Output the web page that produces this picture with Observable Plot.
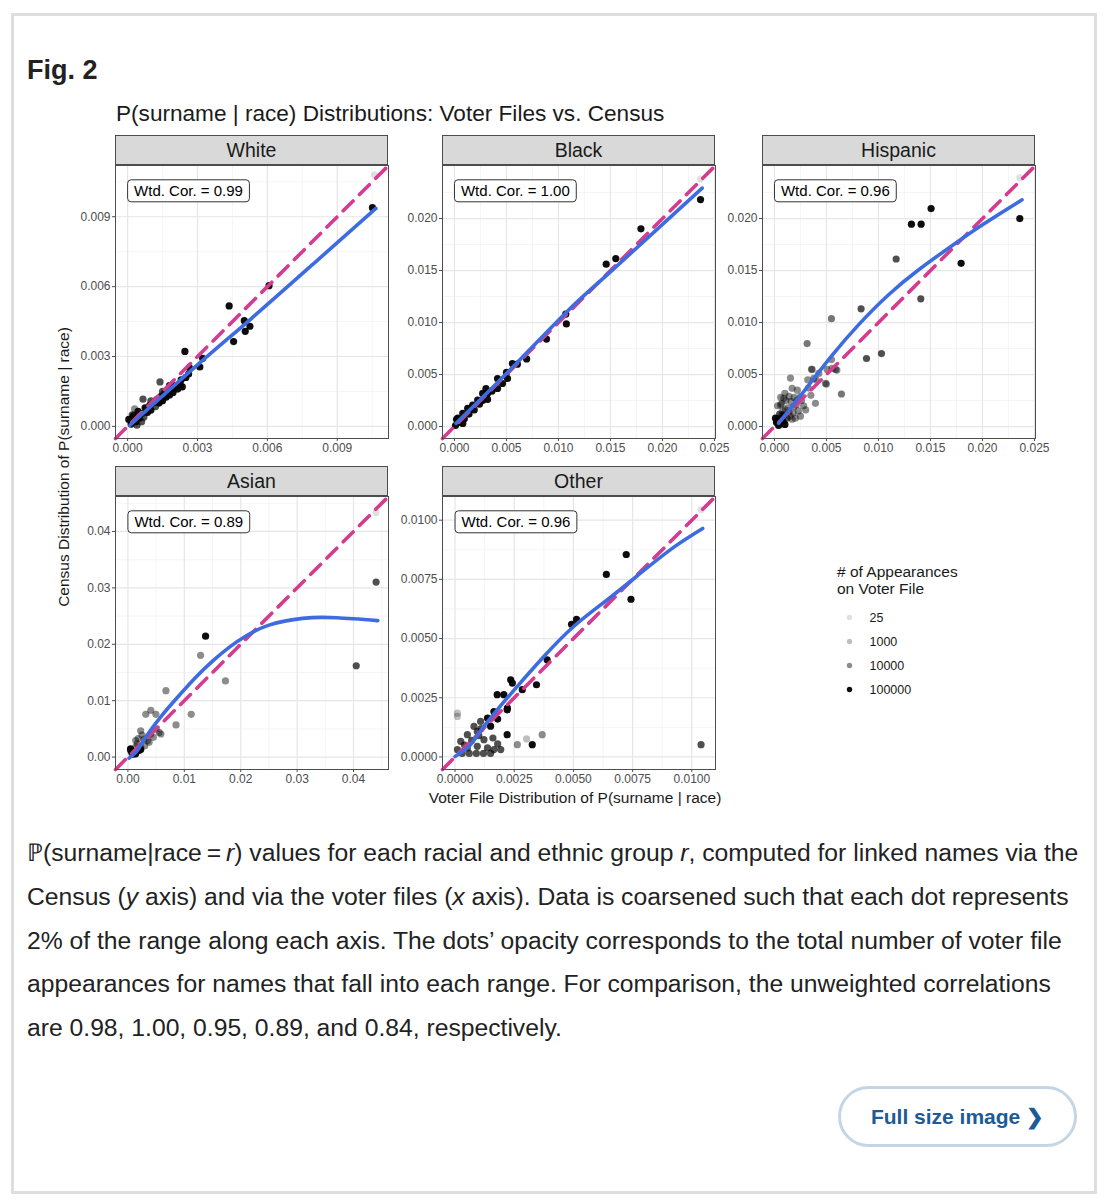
<!DOCTYPE html>
<html><head><meta charset="utf-8">
<script src="https://cdn.jsdelivr.net/npm/d3@7"></script>
<script src="https://cdn.jsdelivr.net/npm/@observablehq/plot@0.6"></script>
<style>
html,body{margin:0;padding:0;background:#fff;}
body{width:1111px;height:1200px;position:relative;overflow:hidden;font-family:"Liberation Sans",Arial,sans-serif;color:#222;}
#card{position:absolute;left:11px;top:13px;width:1086px;height:1181px;border:3px solid #dedede;box-sizing:border-box;}
#fig{position:absolute;left:27px;top:53px;font-size:27px;font-weight:bold;color:#222;line-height:34px;}
#ctitle{position:absolute;left:116px;top:100px;font-size:22.6px;color:#1a1a1a;line-height:28px;white-space:nowrap;}
.strip{position:absolute;height:30px;background:#d9d9d9;border:1px solid #4d4d4d;box-sizing:border-box;text-align:center;font-size:19.5px;line-height:28px;color:#1a1a1a;}
.pan{position:absolute;}
#ytitle{position:absolute;left:-136px;top:457px;width:400px;text-align:center;font-size:15.5px;line-height:20px;color:#1a1a1a;transform:rotate(-90deg);white-space:nowrap;}
#xtitle{position:absolute;left:375px;top:788px;width:400px;text-align:center;font-size:15.5px;line-height:20px;color:#1a1a1a;white-space:nowrap;}
#ltitle{position:absolute;left:837px;top:563px;font-size:15.5px;line-height:17px;color:#1a1a1a;white-space:nowrap;}
#legend{position:absolute;left:840px;top:604px;}
#caption{position:absolute;left:27px;top:831px;font-size:24.7px;line-height:43.75px;color:#222;white-space:nowrap;}
#btn{position:absolute;left:838px;top:1086px;width:239px;height:61px;border:3px solid #c4d5e6;border-radius:32px;box-sizing:border-box;color:#1c5a98;font-weight:bold;font-size:21px;line-height:55px;text-align:center;white-space:nowrap;}
</style></head>
<body>
<div id="card"></div>
<div id="fig">Fig. 2</div>
<div id="ctitle">P(surname | race) Distributions: Voter Files vs. Census</div>
<div id="ytitle">Census Distribution of P(surname | race)</div>
<div id="xtitle">Voter File Distribution of P(surname | race)</div>
<div id="ltitle"># of Appearances<br>on Voter File</div>
<div id="legend"></div>
<div id="caption">
<div>ℙ(surname|race&thinsp;=&thinsp;<i>r</i>) values for each racial and ethnic group <i>r</i>, computed for linked names via the</div>
<div>Census (<i>y</i> axis) and via the voter files (<i>x</i> axis). Data is coarsened such that each dot represents</div>
<div>2% of the range along each axis. The dots’ opacity corresponds to the total number of voter file</div>
<div>appearances for names that fall into each range. For comparison, the unweighted correlations</div>
<div>are 0.98, 1.00, 0.95, 0.89, and 0.84, respectively.</div>
</div>
<div id="btn">Full size image &#x276F;</div>
<script>
// ---------- data ----------
const panelNames = ["White", "Black", "Hispanic", "Asian", "Other"];
const wtdCor = ["0.99", "1.00", "0.96", "0.89", "0.96"];
const legendCounts = [25, 1000, 10000, 100000];

// axis limits (same for x and y in each panel)
const panelLimits = [
  [-0.00052, 0.0112],
  [-0.00115, 0.0251],
  [-0.00115, 0.0251],
  [-0.0022, 0.0462],
  [-0.00053, 0.0110]
];
const xTickLabels = [
  ["0.000", "0.003", "0.006", "0.009"],
  ["0.000", "0.005", "0.010", "0.015", "0.020", "0.025"],
  ["0.000", "0.005", "0.010", "0.015", "0.020", "0.025"],
  ["0.00", "0.01", "0.02", "0.03", "0.04"],
  ["0.0000", "0.0025", "0.0050", "0.0075", "0.0100"]
];
const yTickLabels = [
  ["0.000", "0.003", "0.006", "0.009"],
  ["0.000", "0.005", "0.010", "0.015", "0.020"],
  ["0.000", "0.005", "0.010", "0.015", "0.020"],
  ["0.00", "0.01", "0.02", "0.03", "0.04"],
  ["0.0000", "0.0025", "0.0050", "0.0075", "0.0100"]
];
const minorBreaks = [
  [0.0015, 0.0045, 0.0075, 0.0105],
  [0.0025, 0.0075, 0.0125, 0.0175, 0.0225],
  [0.0025, 0.0075, 0.0125, 0.0175, 0.0225],
  [0.005, 0.015, 0.025, 0.035, 0.045],
  [0.00125, 0.00375, 0.00625, 0.00875]
];

// points: [voter-file value, census value, # appearances]
const whitePoints = [
  [0.01051,0.00939,100000],[0.0106,0.0108,25],[0.00607,0.00604,100000],[0.00436,0.00517,100000],
  [0.00455,0.00364,100000],[0.00501,0.00454,100000],[0.00505,0.00408,100000],[0.00525,0.00430,100000],
  [0.00246,0.00322,100000],[0.00310,0.00255,100000],[0.00322,0.00292,100000],[0.00265,0.00252,100000],
  [0.00262,0.00225,100000],[0.00139,0.00191,30000],[0.00066,0.00117,30000],[0.00030,0.00075,10000],
  [0.00005,0.00030,100000],[0.00015,0.00010,100000],[0.00025,0.00045,100000],[0.00035,0.00020,100000],
  [0.00045,0.00065,100000],[0.00050,0.00035,100000],[0.00060,0.00055,100000],[0.00070,0.00040,30000],
  [0.00075,0.00080,100000],[0.00085,0.00060,100000],[0.00095,0.00090,100000],[0.00100,0.00070,100000],
  [0.00110,0.00100,100000],[0.00120,0.00085,30000],[0.00125,0.00115,100000],[0.00135,0.00100,100000],
  [0.00145,0.00130,100000],[0.00150,0.00110,100000],[0.00160,0.00145,100000],[0.00165,0.00125,100000],
  [0.00175,0.00155,100000],[0.00180,0.00135,100000],[0.00190,0.00165,100000],[0.00195,0.00145,100000],
  [0.00205,0.00175,100000],[0.00215,0.00160,100000],[0.00225,0.00180,100000],[0.00235,0.00170,100000],
  [0.00150,0.00150,30000],[0.00180,0.00175,100000],[0.00100,0.00110,30000],[0.00060,0.00020,30000],
  [0.00040,0.00005,30000],[0.00020,0.00050,30000],[0.00230,0.00200,100000],[0.00250,0.00210,100000]
];
const blackPoints = [
  [0.02366,0.02182,100000],[0.02366,0.02379,25],[0.01793,0.01901,100000],[0.01551,0.01615,100000],
  [0.01459,0.01561,100000],[0.01076,0.00987,100000],[0.01070,0.01080,100000],[0.00885,0.00841,100000],
  [0.00694,0.00650,100000],[0.00557,0.00605,100000],[0.00605,0.00600,100000],[0.00510,0.00462,100000],
  [0.00414,0.00462,100000],[0.00414,0.00366,100000],[0.00462,0.00414,100000],[0.00318,0.00318,100000],
  [0.00303,0.00366,100000],[0.00271,0.00318,100000],[0.00318,0.00261,100000],[0.00223,0.00255,100000],
  [0.00240,0.00215,100000],[0.00175,0.00207,100000],[0.00190,0.00160,100000],[0.00127,0.00175,100000],
  [0.00140,0.00120,100000],[0.00080,0.00127,100000],[0.00095,0.00075,100000],[0.00032,0.00080,100000],
  [0.00020,0.00070,100000],[0.00080,0.00030,100000],[0.00050,0.00040,100000],[0.00010,0.00010,100000],
  [0.00270,0.00250,100000],[0.00360,0.00340,100000],[0.00500,0.00520,100000]
];
const hispanicPoints = [
  [0.02359,0.02000,100000],[0.02359,0.02392,25],[0.01506,0.02096,100000],[0.01317,0.01946,100000],
  [0.01410,0.01946,100000],[0.01170,0.01611,30000],[0.01795,0.01569,100000],[0.01407,0.01228,30000],
  [0.00833,0.01132,30000],[0.00548,0.01037,15000],[0.00314,0.00798,15000],[0.00885,0.00654,30000],
  [0.01029,0.00702,30000],[0.00644,0.00313,15000],[0.00548,0.00644,10000],[0.00587,0.00549,10000],
  [0.00506,0.00549,10000],[0.00554,0.00559,10000],[0.00600,0.00543,10000],[0.00500,0.00408,10000],
  [0.00490,0.00415,10000],[0.00362,0.00549,10000],[0.00356,0.00550,10000],[0.00394,0.00223,10000],
  [0.00327,0.00370,10000],[0.00154,0.00466,10000],[0.00170,0.00367,10000],[0.00089,0.00272,10000],
  [0.00058,0.00208,10000],[0.00010,0.00080,100000],[0.00030,0.00060,100000],[0.00074,0.00112,10000],
  [0.00106,0.00160,10000],[0.00186,0.00191,10000],[0.00218,0.00255,10000],[0.00250,0.00287,10000],
  [0.00378,0.00463,10000],[0.00426,0.00511,10000],[0.0005,0.0003,100000],[0.0008,0.0005,100000],
  [0.0010,0.0002,100000],[0.0004,0.0001,100000],[0.0012,0.0008,30000],[0.0015,0.0010,10000],
  [0.0018,0.0013,10000],[0.0020,0.0008,10000],[0.0023,0.0015,10000],[0.0025,0.0010,10000],
  [0.0013,0.0018,10000],[0.0008,0.0015,10000],[0.0016,0.0024,10000],[0.0010,0.0032,10000],
  [0.0006,0.0028,10000],[0.0022,0.0035,10000],[0.0028,0.0020,10000],[0.0030,0.0016,10000],
  [0.0005,0.0012,30000],[0.0002,0.0004,100000],[0.0035,0.0030,10000],[0.0040,0.0045,10000],
  [0.0032,0.0045,10000],[0.0003,0.0020,10000],[0.0007,0.0022,10000],[0.0011,0.0025,10000],
  [0.0014,0.0029,10000],[0.0019,0.0028,10000],[0.0009,0.0011,30000],[0.0014,0.0014,10000],
  [0.0017,0.0007,10000],[0.0021,0.0021,10000],[0.0026,0.0025,10000],[0.0006,0.0008,30000]
];
const asianPoints = [
  [0.04400,0.03103,30000],[0.04400,0.04338,25],[0.04048,0.01619,30000],[0.01377,0.02143,100000],
  [0.01288,0.01805,10000],[0.01729,0.01351,10000],[0.00674,0.01177,10000],[0.01122,0.00758,10000],
  [0.00853,0.00571,10000],[0.00406,0.00828,10000],[0.00317,0.00758,10000],[0.00496,0.00758,10000],
  [0.00585,0.00409,10000],[0.00554,0.00437,10000],[0.00405,0.00408,10000],[0.00227,0.00466,10000],
  [0.00286,0.00321,10000],[0.00346,0.00291,10000],[0.00138,0.00292,10000],[0.00376,0.00262,10000],
  [0.00227,0.00175,10000],[0.00167,0.00233,10000],[0.00137,0.00175,10000],[0.00048,0.00147,100000],
  [0.00048,0.00128,100000],[0.00200,0.00120,100000],[0.00137,0.00058,100000],[0.00227,0.00134,100000],
  [0.00090,0.00050,100000],[0.00060,0.00090,30000],[0.00300,0.00200,10000],[0.00450,0.00350,10000],
  [0.00250,0.00390,10000],[0.00180,0.00330,10000],[0.00500,0.00500,10000]
];
const otherPoints = [
  [0.00723,0.00855,100000],[0.00639,0.00771,100000],[0.00743,0.00666,100000],[0.01039,0.01045,25],
  [0.01039,0.00052,30000],[0.00492,0.00560,100000],[0.00513,0.00581,100000],[0.00389,0.00410,100000],
  [0.00344,0.00305,100000],[0.00284,0.00284,100000],[0.00235,0.00326,100000],[0.00242,0.00312,100000],
  [0.00220,0.00199,100000],[0.00178,0.00263,100000],[0.00206,0.00263,100000],[0.00220,0.00094,100000],
  [0.00368,0.00094,10000],[0.00263,0.00052,10000],[0.00302,0.00076,1000],[0.00326,0.00052,100000],
  [0.00010,0.00185,1000],[0.00010,0.00171,1000],[0.00221,0.00206,100000],[0.00164,0.00192,100000],
  [0.00137,0.00164,100000],[0.00108,0.00150,30000],[0.00080,0.00129,30000],[0.00094,0.00108,30000],
  [0.00052,0.00094,30000],[0.00024,0.00066,30000],[0.00010,0.00031,30000],[0.00052,0.00038,30000],
  [0.00094,0.00045,30000],[0.00137,0.00038,30000],[0.00164,0.00031,30000],[0.00193,0.00031,30000],
  [0.00122,0.00073,30000],[0.00030,0.00015,30000],[0.00060,0.00015,30000],[0.00090,0.00015,30000],
  [0.00120,0.00015,30000],[0.00150,0.00015,30000],[0.00070,0.00070,30000],[0.00100,0.00090,30000],
  [0.00040,0.00050,30000],[0.00110,0.00120,30000],[0.00150,0.00130,100000],[0.00180,0.00160,100000],
  [0.00160,0.00080,30000],[0.00180,0.00055,30000]
];

// loess smooth (blue): [voter-file value, census value]
const whiteSmooth = [[0.0001,0.00005],[0.0030,0.00264],[0.0053,0.00462],[0.0080,0.00700],[0.01066,0.00936]];
const blackSmooth = [[0.00016,0.00032],[0.005,0.0051],[0.01076,0.01099],[0.015,0.01487],[0.02382,0.02293]];
const hispanicSmooth = [[0.0004,0.0003],[0.0030,0.0036],[0.0055,0.0068],[0.0081,0.0098],[0.0110,0.0127],
  [0.0139,0.0151],[0.0168,0.0172],[0.0200,0.0194],[0.0238,0.0218]];
const asianSmooth = [[0.0002,-0.0002],[0.0017,0.0012],[0.0030,0.0033],[0.0058,0.0071],[0.0088,0.0106],[0.0120,0.0141],
  [0.0150,0.0170],[0.0180,0.0195],[0.0210,0.0215],[0.0250,0.0234],[0.0310,0.0246],[0.0370,0.0247],[0.0443,0.0242]];
const otherSmooth = [[0.0000,0.00002],[0.00052,0.00038],[0.00087,0.0008],[0.00122,0.00129],[0.00178,0.00199],[0.00263,0.00298],
  [0.00375,0.00424],[0.00501,0.00551],[0.00642,0.00663],[0.00782,0.00775],[0.00923,0.00885],[0.01046,0.00965]];

const panelPoints = [whitePoints, blackPoints, hispanicPoints, asianPoints, otherPoints];
const panelSmooth = [whiteSmooth, blackSmooth, hispanicSmooth, asianSmooth, otherSmooth];

// ---------- layout / style ----------
const PW = 273, PH = 273;
const panelLayout = [
  {left: 115, top: 165}, {left: 442, top: 165}, {left: 762, top: 165},
  {left: 115, top: 496}, {left: 442, top: 496}
];
const M = {l: 50, r: 6, t: 4, b: 24};
const opacityScale = {type: "log", domain: [25, 1000, 10000, 100000], range: [0.12, 0.25, 0.45, 0.95], clamp: true};
const FONT = "Liberation Sans, Arial, sans-serif";

function addLabelBoxes(svg) {
  Array.from(svg.querySelectorAll("text"))
    .filter(t => t.textContent.startsWith("Wtd."))
    .forEach(t => {
      const bb = t.getBBox();
      const r = document.createElementNS("http://www.w3.org/2000/svg", "rect");
      r.setAttribute("x", bb.x - 6.5);
      r.setAttribute("y", bb.y - 2.5);
      r.setAttribute("width", bb.width + 13);
      r.setAttribute("height", bb.height + 5);
      r.setAttribute("rx", 3.5);
      r.setAttribute("fill", "white");
      r.setAttribute("stroke", "#333");
      r.setAttribute("stroke-width", 1);
      const tr = t.getAttribute("transform");
      if (tr) r.setAttribute("transform", tr);
      t.parentNode.insertBefore(r, t);
    });
}

panelNames.forEach((name, i) => {
  const lim = panelLimits[i];
  const xt = xTickLabels[i].map(Number), yt = yTickLabels[i].map(Number);
  const xl = new Map(xTickLabels[i].map(s => [+s, s]));
  const yl = new Map(yTickLabels[i].map(s => [+s, s]));
  const pts = panelPoints[i].map(([x, y, n]) => ({x, y, n}));
  const sm = panelSmooth[i].map(([x, y]) => ({x, y}));
  const diag = lim.map(v => ({x: v, y: v}));
  const zeroDx = (0 - lim[0]) / (lim[1] - lim[0]) * PW;
  const lay = panelLayout[i];

  const strip = document.createElement("div");
  strip.className = "strip";
  strip.style.left = lay.left + "px";
  strip.style.top = (lay.top - 30) + "px";
  strip.style.width = PW + "px";
  strip.textContent = name;
  document.body.append(strip);

  const svg = Plot.plot({
    width: PW + M.l + M.r, height: PH + M.t + M.b,
    marginLeft: M.l, marginRight: M.r, marginTop: M.t, marginBottom: M.b,
    style: {fontFamily: FONT, fontSize: "12px", color: "#4d4d4d", background: "transparent", overflow: "visible"},
    x: {domain: lim, ticks: xt, tickFormat: d => xl.get(d), tickSize: 3, tickPadding: 2, label: null},
    y: {domain: lim, ticks: yt, tickFormat: d => yl.get(d), tickSize: 3, tickPadding: 2, label: null},
    opacity: opacityScale,
    marks: [
      Plot.ruleX(minorBreaks[i], {stroke: "#f0f0f0", strokeWidth: 0.7}),
      Plot.ruleY(minorBreaks[i], {stroke: "#f0f0f0", strokeWidth: 0.7}),
      Plot.ruleX(xt, {stroke: "#e6e6e6", strokeWidth: 1.2}),
      Plot.ruleY(yt, {stroke: "#e6e6e6", strokeWidth: 1.2}),
      Plot.dot(pts, {x: "x", y: "y", r: 3.6, fill: "#000", fillOpacity: "n", stroke: "none"}),
      Plot.line(diag, {x: "x", y: "y", stroke: "#d63c8e", strokeWidth: 3.6, strokeDasharray: "14,9"}),
      Plot.line(sm, {x: "x", y: "y", stroke: "#3d6be0", strokeWidth: 3.6, curve: "natural"}),
      Plot.text([`Wtd. Cor. = ${wtdCor[i]}`], {frameAnchor: "top-left", dx: zeroDx + 6.5, dy: 26, text: d => d,
        textAnchor: "start", lineAnchor: "middle", fontSize: 15, fill: "#000"}),
      Plot.frame({stroke: "#4d4d4d", strokeWidth: 1})
    ]
  });
  svg.classList.add("pan");
  svg.style.position = "absolute";
  svg.style.left = (lay.left - M.l) + "px";
  svg.style.top = (lay.top - M.t) + "px";
  document.body.append(svg);
  addLabelBoxes(svg);
});

// legend
const leg = Plot.plot({
  width: 120, height: 98,
  marginLeft: 9, marginRight: 0, marginTop: 12, marginBottom: 12,
  style: {fontFamily: FONT, fontSize: "12.5px", color: "#1a1a1a", background: "transparent", overflow: "visible"},
  y: {type: "point", domain: legendCounts.map(String), padding: 0, axis: null},
  opacity: opacityScale,
  marks: [
    Plot.dot(legendCounts, {y: d => String(d), frameAnchor: "left", r: 2.7, fill: "#000", fillOpacity: d => d, stroke: "none"}),
    Plot.text(legendCounts, {y: d => String(d), frameAnchor: "left", dx: 20, text: d => String(d), textAnchor: "start", fill: "#1a1a1a"})
  ]
});
document.getElementById("legend").append(leg);
</script>
</body></html>
